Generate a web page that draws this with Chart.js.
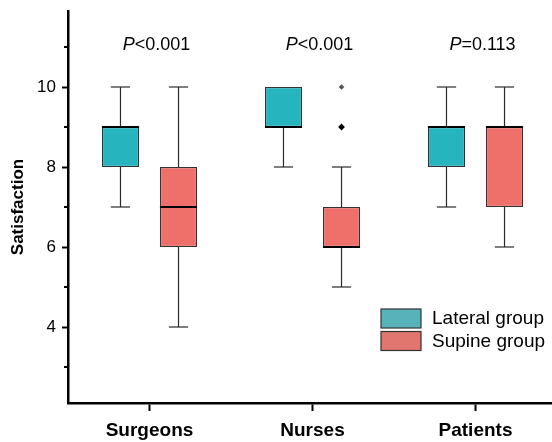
<!DOCTYPE html>
<html>
<head>
<meta charset="utf-8">
<script src="https://cdn.jsdelivr.net/npm/chart.js@4.4.1/dist/chart.umd.min.js"></script>
<style>
  html, body { margin: 0; padding: 0; background: #fff; overflow: hidden; }
  #wrap { width: 557px; height: 442px; }
</style>
</head>
<body>
<div id="wrap"><canvas id="chart" width="557" height="442"></canvas></div>
<script>
const groups = ['Surgeons', 'Nurses', 'Patients'];
const seriesNames = ['Lateral group', 'Supine group'];

// five-number summaries, one value per group
const lateralMin = [7, 8, 7];
const lateralQ1 = [8, 9, 8];
const lateralMedian = [9, 9, 9];
const lateralQ3 = [9, 10, 9];
const lateralMax = [10, 10, 10];
const lateralOutliers = [[], [], []];

const supineMin = [4, 5, 6];
const supineQ1 = [6, 6, 7];
const supineMedian = [7, 6, 9];
const supineQ3 = [8, 7, 9];
const supineMax = [10, 8, 10];
const supineOutliers = [[], [9, 10], []];

const pLabels = ['P<0.001', 'P<0.001', 'P=0.113'];
const yTicks = [3, 4, 5, 6, 7, 8, 9, 10, 11];
const yLabels = [4, 6, 8, 10];

const font = '"Liberation Sans", Arial, Helvetica, sans-serif';
const fills = ['#26b5bf', '#ef706b'];
const legendFills = ['#57b2ba', '#e1766f'];

const stats = [
  { min: lateralMin, med: lateralMedian, q1: lateralQ1, q3: lateralQ3, max: lateralMax, out: lateralOutliers },
  { min: supineMin, med: supineMedian, q1: supineQ1, q3: supineQ3, max: supineMax, out: supineOutliers }
];

function seg(ctx, x1, y1, x2, y2) {
  ctx.beginPath();
  ctx.moveTo(x1, y1);
  ctx.lineTo(x2, y2);
  ctx.stroke();
}

const boxPlugin = {
  id: 'boxExtras',
  afterDatasetsDraw(chart) {
    const ctx = chart.ctx;
    const ys = chart.scales.y, xs = chart.scales.x;
    const area = chart.chartArea;

    chart.data.datasets.forEach((ds, di) => {
      const st = stats[di];
      chart.getDatasetMeta(di).data.forEach((bar, i) => {
        const x = bar.x, half = bar.width / 2, cap = bar.width * 0.26;
        const pMin = ys.getPixelForValue(st.min[i]);
        const pMax = ys.getPixelForValue(st.max[i]);
        const pQ1 = ys.getPixelForValue(st.q1[i]);
        const pQ3 = ys.getPixelForValue(st.q3[i]);
        ctx.save();
        ctx.strokeStyle = '#2a2a2a';
        ctx.lineWidth = 1.2;
        if (st.max[i] > st.q3[i]) {
          seg(ctx, x, pQ3, x, pMax);
          seg(ctx, x - cap, pMax, x + cap, pMax);
        }
        if (st.min[i] < st.q1[i]) {
          seg(ctx, x, pQ1, x, pMin);
          seg(ctx, x - cap, pMin, x + cap, pMin);
        }
        // median
        ctx.strokeStyle = '#000';
        ctx.lineWidth = 2.2;
        const pMed = ys.getPixelForValue(st.med[i]);
        seg(ctx, x - half, pMed, x + half, pMed);
        // outliers
        st.out[i].forEach((v, k) => {
          const py = ys.getPixelForValue(v);
          const r = k === 0 ? 3.4 : 2.8;
          ctx.fillStyle = k === 0 ? '#000' : '#555';
          ctx.beginPath();
          ctx.moveTo(x, py - r);
          ctx.lineTo(x + r, py);
          ctx.lineTo(x, py + r);
          ctx.lineTo(x - r, py);
          ctx.closePath();
          ctx.fill();
        });
        ctx.restore();
      });
    });

    // minor ticks on y axis
    ctx.save();
    ctx.strokeStyle = '#000';
    ctx.lineWidth = 2;
    yTicks.filter(v => !yLabels.includes(v)).forEach(v => {
      const py = ys.getPixelForValue(v);
      seg(ctx, area.left - 4, py, area.left, py);
    });
    ctx.restore();

    // p values
    ctx.save();
    ctx.fillStyle = '#000';
    ctx.textBaseline = 'middle';
    ctx.textAlign = 'left';
    pLabels.forEach((t, i) => {
      const head = t.charAt(0), rest = t.slice(1);
      ctx.font = 'italic 18px ' + font;
      const w1 = ctx.measureText(head).width;
      ctx.font = '18px ' + font;
      const w2 = ctx.measureText(rest).width;
      const cx = xs.getPixelForValue(i) + 7;
      const py = ys.getPixelForValue(11.05);
      const sx = cx - (w1 + w2) / 2;
      ctx.font = 'italic 18px ' + font;
      ctx.fillText(head, sx, py);
      ctx.font = '18px ' + font;
      ctx.fillText(rest, sx + w1, py);
    });
    ctx.restore();

    // legend
    ctx.save();
    const lx = area.left + 313, ly = area.top + 298;
    seriesNames.forEach((name, i) => {
      const top = ly + i * 22.5;
      ctx.fillStyle = legendFills[i];
      ctx.fillRect(lx, top, 40, 19);
      ctx.strokeStyle = '#333';
      ctx.lineWidth = 1.2;
      ctx.strokeRect(lx, top, 40, 19);
      ctx.fillStyle = '#000';
      ctx.font = '19px ' + font;
      ctx.textBaseline = 'middle';
      ctx.fillText(name, lx + 51, top + 10);
    });
    ctx.restore();
  }
};

new Chart(document.getElementById('chart'), {
  type: 'bar',
  data: {
    labels: groups,
    datasets: stats.map((st, di) => ({
      label: seriesNames[di],
      data: st.q1.map((q, i) => [q, st.q3[i]]),
      backgroundColor: fills[di],
      borderColor: '#333',
      borderWidth: 1.2,
      borderSkipped: false,
      categoryPercentage: 0.712,
      barPercentage: 0.64
    }))
  },
  options: {
    responsive: false,
    animation: false,
    layout: { padding: { top: 11, left: 0, right: 0, bottom: 0 } },
    plugins: { legend: { display: false }, tooltip: { enabled: false } },
    scales: {
      x: {
        offset: true,
        afterFit: s => { s.height = 39; s.paddingLeft = 0; s.paddingRight = 0; },
        border: { color: '#000', width: 2.5 },
        grid: { offset: false, drawOnChartArea: false, tickLength: 8, tickWidth: 2, tickColor: '#000' },
        ticks: { color: '#000', padding: 8, font: { family: font, size: 19, weight: 'bold' } }
      },
      y: {
        min: 2.1,
        max: 11.9,
        afterBuildTicks: s => { s.ticks = yTicks.map(v => ({ value: v })); },
        afterFit: s => { s.width = 68; s.paddingTop = 0; s.paddingBottom = 0; },
        border: { color: '#000', width: 2.5 },
        grid: {
          drawOnChartArea: false,
          tickLength: 6,
          tickWidth: 2,
          tickColor: c => (c.tick && yLabels.includes(c.tick.value)) ? '#000' : 'rgba(0,0,0,0)'
        },
        ticks: {
          color: '#000',
          padding: 6,
          font: { family: font, size: 17 },
          callback: v => yLabels.includes(v) ? String(v) : ''
        },
        title: {
          display: true,
          text: 'Satisfaction',
          color: '#000',
          font: { family: font, size: 17, weight: 'bold' },
          padding: { top: 8, bottom: 0 }
        }
      }
    }
  },
  plugins: [boxPlugin]
});
</script>
</body>
</html>
